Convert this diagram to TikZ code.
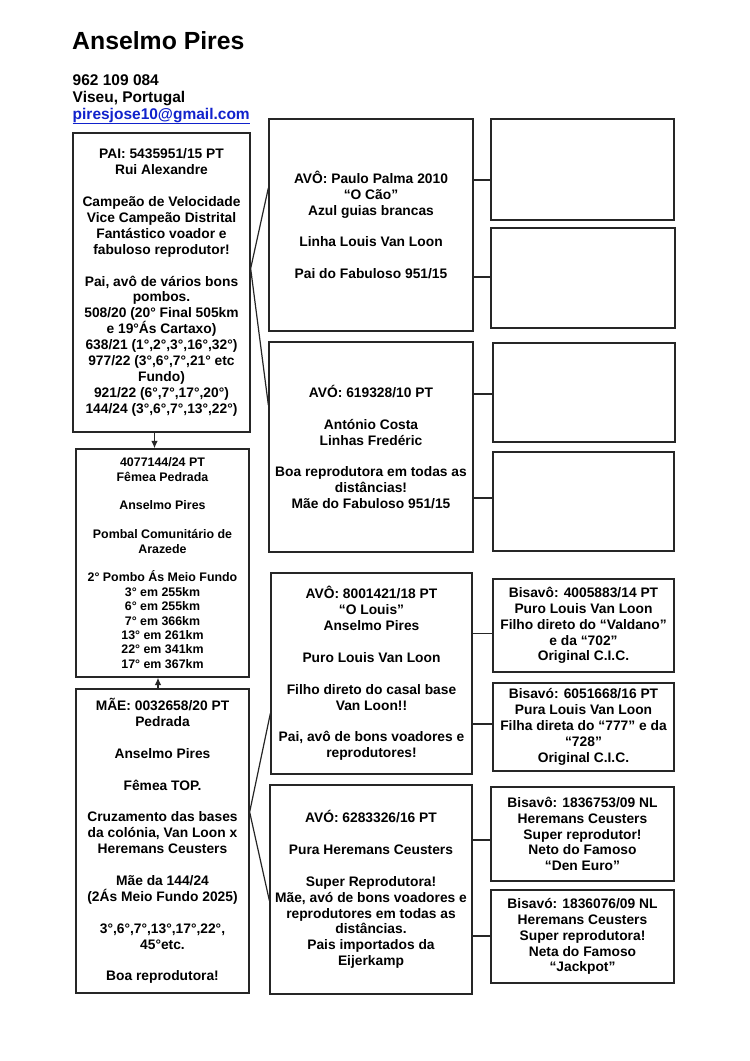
\documentclass[tikz,border=0pt]{standalone}
\usepackage{fontspec}
\setmainfont{Liberation Sans}
\usepackage{xcolor}
\usetikzlibrary{arrows.meta, positioning, calc}
\definecolor{linkblue}{RGB}{17,34,204}

\begin{document}
\begin{tikzpicture}[x=1pt, y=-1pt,
    box/.style={draw=black!85, line width=1.3pt, align=center, inner sep=2pt,
      font=\bfseries\fontsize{13.8}{15.9}\selectfont},
    smallbox/.style={box, font=\bfseries\fontsize{12.4}{14.4}\selectfont},
    head/.style={anchor=base west, inner sep=0pt, font=\bfseries\fontsize{15.5}{17}\selectfont},
    link/.style={draw=black!85, line width=1.2pt},
    arr/.style={link, -{Latex[length=7.5pt,width=6.5pt]}}]
  \useasboundingbox (0,0) rectangle (750,1061);
  \fill[white] (0,0) rectangle (750,1061);

  % header
  \node[head, font=\bfseries\fontsize{24.8}{29}\selectfont] (name) at (72,49) {Anselmo Pires};
  \node[head] (phone) at (72.5,85) {962 109 084};
  \node[head] (city) at ([yshift=-17pt]phone.base west) {Viseu, Portugal};
  \node[head, text=linkblue] (mail) at ([yshift=-17pt]city.base west) {\underline{piresjose10@gmail.com}};

  % parents and child
  \node[box, minimum width=177pt, minimum height=299pt] (pai) at (161.5,282.5)
    {PAI: 5435951/15 PT\\ Rui Alexandre\\[\baselineskip]
     Campeão de Velocidade\\ Vice Campeão Distrital\\ Fantástico voador e\\ fabuloso reprodutor!\\[\baselineskip]
     Pai, avô de vários bons\\ pombos.\\ 508/20 (20° Final 505km\\ e 19°Ás Cartaxo)\\
     638/21 (1°,2°,3°,16°,32°)\\ 977/22 (3°,6°,7°,21° etc\\ Fundo)\\
     921/22 (6°,7°,17°,20°)\\ 144/24 (3°,6°,7°,13°,22°)};
  \node[smallbox, minimum width=173pt, minimum height=228pt] (child) at (162.5,563)
    {4077144/24 PT\\ Fêmea Pedrada\\[\baselineskip] Anselmo Pires\\[\baselineskip]
     Pombal Comunitário de\\ Arazede\\[\baselineskip]
     2° Pombo Ás Meio Fundo\\ 3° em 255km\\ 6° em 255km\\ 7° em 366km\\
     13° em 261km\\ 22° em 341km\\ 17° em 367km};
  \node[box, minimum width=173pt, minimum height=304pt] (mae) at (162.5,841)
    {MÃE: 0032658/20 PT\\ Pedrada\\[\baselineskip] Anselmo Pires\\[\baselineskip]
     Fêmea TOP.\\[\baselineskip]
     Cruzamento das bases\\ da colónia, Van Loon x\\ Heremans Ceusters\\[\baselineskip]
     Mãe da 144/24\\ (2Ás Meio Fundo 2025)\\[\baselineskip]
     3°,6°,7°,13°,17°,22°,\\ 45°etc.\\[\baselineskip] Boa reprodutora!};

  % grandparents
  \node[box, minimum width=204pt, minimum height=212pt] (avo1) at (371,225)
    {AVÔ: Paulo Palma 2010\\ “O Cão”\\ Azul guias brancas\\[\baselineskip]
     Linha Louis Van Loon\\[\baselineskip] Pai do Fabuloso 951/15};
  \node[box, minimum width=204pt, minimum height=210pt] (avo2) at (371,447)
    {AVÓ: 619328/10 PT\\[\baselineskip] António Costa\\ Linhas Fredéric\\[\baselineskip]
     Boa reprodutora em todas as\\ distâncias!\\ Mãe do Fabuloso 951/15};
  \node[box, minimum width=201pt, minimum height=201pt] (avo3) at (371.5,673.5)
    {AVÔ: 8001421/18 PT\\ “O Louis”\\ Anselmo Pires\\[\baselineskip]
     Puro Louis Van Loon\\[\baselineskip] Filho direto do casal base\\ Van Loon!!\\[\baselineskip]
     Pai, avô de bons voadores e\\ reprodutores!};
  \node[box, minimum width=202pt, minimum height=209pt] (avo4) at (371,889.5)
    {AVÓ: 6283326/16 PT\\[\baselineskip] Pura Heremans Ceusters\\[\baselineskip]
     Super Reprodutora!\\ Mãe, avó de bons voadores e\\ reprodutores em todas as\\
     distâncias.\\ Pais importados da\\ Eijerkamp};

  % great-grandparents
  \node[box, minimum width=183pt, minimum height=101pt] (e1) at (582.5,169.5) {};
  \node[box, minimum width=184pt, minimum height=100pt] (e2) at (583,278) {};
  \node[box, minimum width=182pt, minimum height=99pt] (e3) at (584,392.5) {};
  \node[box, minimum width=181pt, minimum height=99pt] (e4) at (583.5,501.5) {};
  \node[box, minimum width=181pt, minimum height=93pt] (bis1) at (583.5,625.5)
    {Bisavô: 4005883/14 PT\\ Puro Louis Van Loon\\ Filho direto do “Valdano”\\ e da “702”\\ Original C.I.C.};
  \node[box, minimum width=181pt, minimum height=88pt] (bis2) at (583.5,727)
    {Bisavó: 6051668/16 PT\\ Pura Louis Van Loon\\ Filha direta do “777” e da\\ “728”\\ Original C.I.C.};
  \node[box, minimum width=183pt, minimum height=94pt] (bis3) at (582.5,834)
    {Bisavô: 1836753/09 NL\\ Heremans Ceusters\\ Super reprodutor!\\ Neto do Famoso\\ “Den Euro”};
  \node[box, minimum width=183pt, minimum height=93pt] (bis4) at (582.5,936.5)
    {Bisavó: 1836076/09 NL\\ Heremans Ceusters\\ Super reprodutora!\\ Neta do Famoso\\ “Jackpot”};

  % connectors
  \draw[arr] ([xshift=-7pt]pai.south) -- ([xshift=-7pt]pai.south |- child.north);
  \draw[arr] ([xshift=-4.5pt]mae.north) -- ([xshift=-4.5pt]mae.north |- child.south);

  \draw[link] ([yshift=42pt]avo2.west) -- ([yshift=14pt]pai.east) -- ([yshift=37pt]avo1.west);
  \draw[link] ([yshift=-40pt]avo3.west) -- ([yshift=29pt]mae.east) -- ([yshift=-11pt]avo4.west);

  \draw[link] ([yshift=45pt]avo1.east) -- ([yshift=45pt]avo1.east -| e1.west);
  \draw[link] ([yshift=-52pt]avo1.east) -- ([yshift=-52pt]avo1.east -| e2.west);
  \draw[link] ([yshift=53pt]avo2.east) -- ([yshift=53pt]avo2.east -| e3.west);
  \draw[link] ([yshift=-51pt]avo2.east) -- ([yshift=-51pt]avo2.east -| e4.west);
  \draw[link] ([yshift=40pt]avo3.east) -- ([yshift=40pt]avo3.east -| bis1.west);
  \draw[link] ([yshift=-50.5pt]avo3.east) -- ([yshift=-50.5pt]avo3.east -| bis2.west);
  \draw[link] ([yshift=49.5pt]avo4.east) -- ([yshift=49.5pt]avo4.east -| bis3.west);
  \draw[link] ([yshift=-46.5pt]avo4.east) -- ([yshift=-46.5pt]avo4.east -| bis4.west);
\end{tikzpicture}
\end{document}
